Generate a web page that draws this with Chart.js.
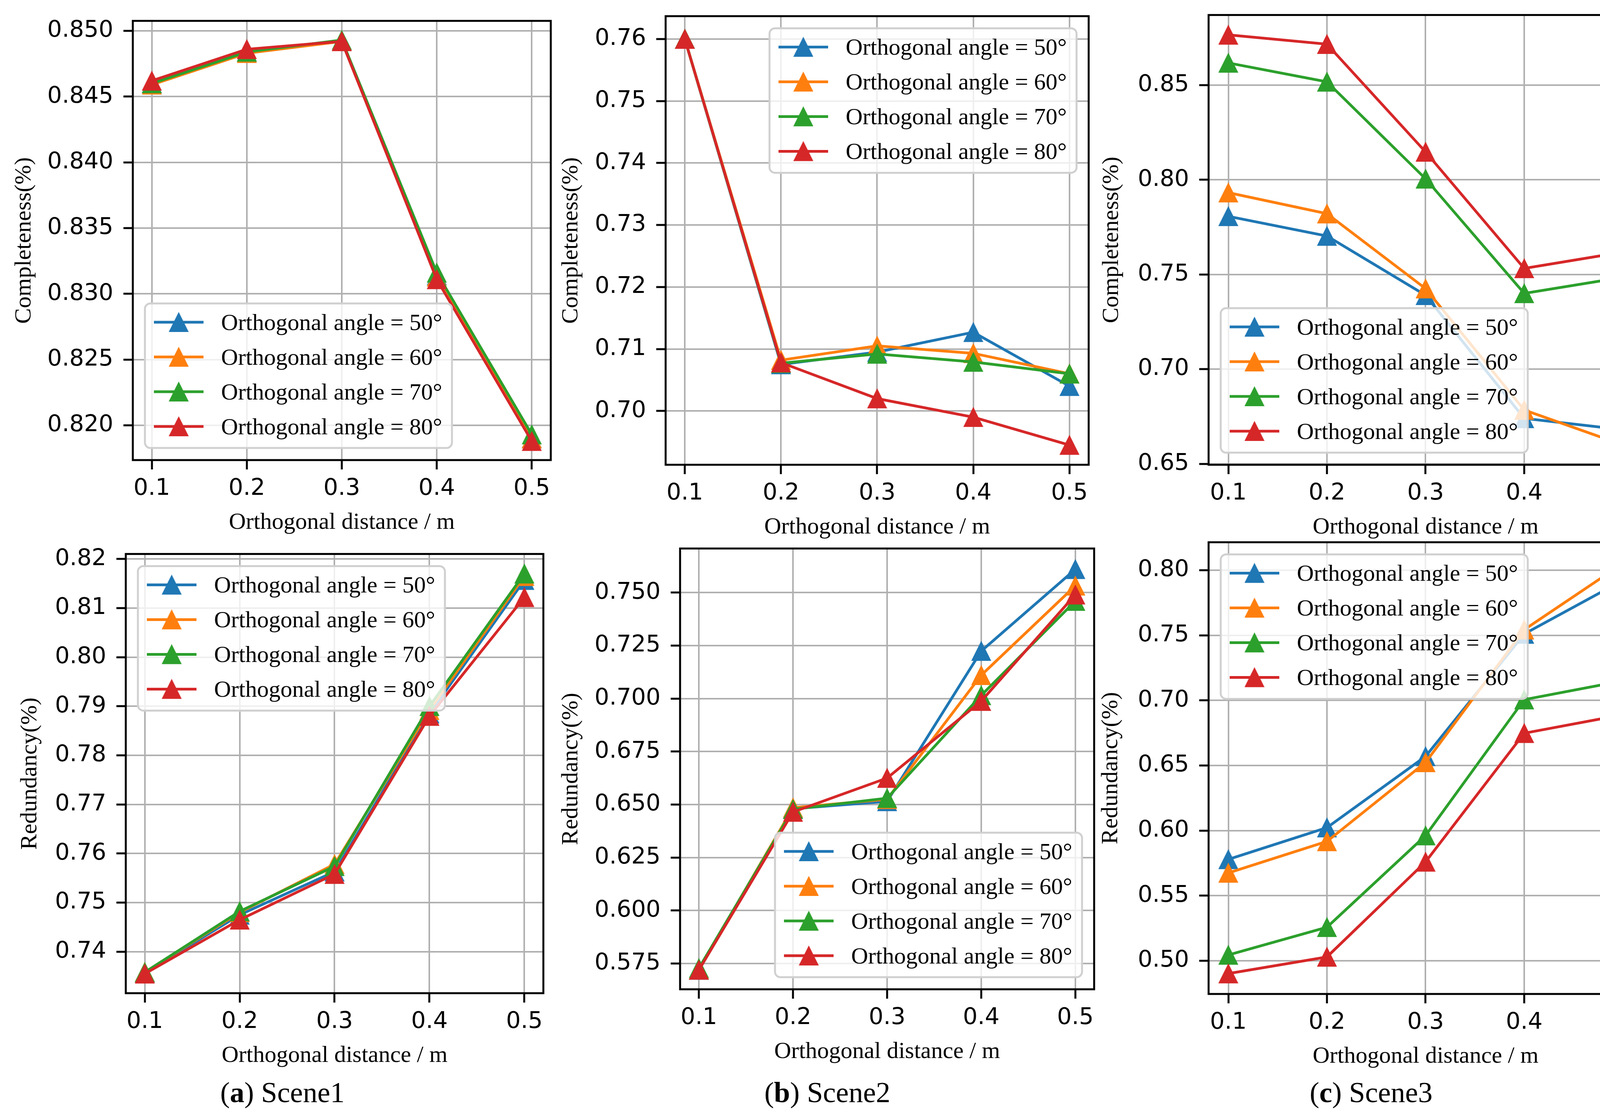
<!DOCTYPE html>
<html lang="en">
<head>
  <meta charset="UTF-8" />
  <title>Completeness and redundancy vs orthogonal distance</title>
  <script src="https://cdn.jsdelivr.net/npm/chart.js@4"></script>
  <style>
    html, body { margin: 0; padding: 0; background: #fff; overflow: hidden; }
    body { width: 4239px; height: 2860px; position: relative; }
    canvas { position: absolute; }
    .caption {
      position: absolute;
      top: 2760px;
      font-family: 'Liberation Serif', serif;
      font-size: 74px;
      line-height: 1;
      color: #000;
      white-space: nowrap;
      transform: translateX(-50%);
    }
  </style>
</head>
<body>
  <div class="caption" style="left:723px">(<b>a</b>) Scene1</div>
  <div class="caption" style="left:2118px">(<b>b</b>) Scene2</div>
  <div class="caption" style="left:3510px">(<b>c</b>) Scene3</div>

  <script>
    // ---- data ----
    const distances = [0.1, 0.2, 0.3, 0.4, 0.5];
    const distanceTicks = [0.1, 0.2, 0.3, 0.4, 0.5];
    const angleLabels = [
      'Orthogonal angle = 50°',
      'Orthogonal angle = 60°',
      'Orthogonal angle = 70°',
      'Orthogonal angle = 80°'
    ];

    // rows: 50°, 60°, 70°, 80°
    const scene1Completeness = [
      [0.8460, 0.8484, 0.8492, 0.8314, 0.8190],
      [0.8459, 0.8483, 0.8492, 0.8313, 0.8190],
      [0.8460, 0.8484, 0.8493, 0.8316, 0.8193],
      [0.8462, 0.8486, 0.8492, 0.8311, 0.8188]
    ];
    const scene1Redundancy = [
      [0.7357, 0.7475, 0.7563, 0.7885, 0.8157],
      [0.7358, 0.7480, 0.7578, 0.7892, 0.8165],
      [0.7358, 0.7482, 0.7574, 0.7900, 0.8170],
      [0.7355, 0.7465, 0.7558, 0.7880, 0.8122]
    ];
    const scene2Completeness = [
      [0.7600, 0.7075, 0.7095, 0.7127, 0.7040],
      [0.7600, 0.7082, 0.7105, 0.7093, 0.7060],
      [0.7600, 0.7077, 0.7092, 0.7079, 0.7060],
      [0.7600, 0.7078, 0.7020, 0.6990, 0.6945]
    ];
    const scene2Redundancy = [
      [0.5720, 0.6480, 0.6515, 0.7224, 0.7610],
      [0.5722, 0.6485, 0.6525, 0.7110, 0.7532],
      [0.5728, 0.6478, 0.6530, 0.7015, 0.7460],
      [0.5720, 0.6465, 0.6625, 0.6988, 0.7490]
    ];
    const scene3Completeness = [
      [0.7807, 0.7703, 0.7390, 0.6740, 0.6680],
      [0.7932, 0.7821, 0.7425, 0.6784, 0.6600],
      [0.8617, 0.8517, 0.8005, 0.7400, 0.7485],
      [0.8765, 0.8716, 0.8147, 0.7532, 0.7618]
    ];
    const scene3Redundancy = [
      [0.5779, 0.6023, 0.6570, 0.7510, 0.7922],
      [0.5675, 0.5917, 0.6524, 0.7543, 0.8052],
      [0.5045, 0.5258, 0.5962, 0.7006, 0.7150],
      [0.4902, 0.5030, 0.5760, 0.6748, 0.6890]
    ];

    const scene1CompletenessTicks = [0.820, 0.825, 0.830, 0.835, 0.840, 0.845, 0.850];
    const scene1RedundancyTicks = [0.74, 0.75, 0.76, 0.77, 0.78, 0.79, 0.80, 0.81, 0.82];
    const scene2CompletenessTicks = [0.70, 0.71, 0.72, 0.73, 0.74, 0.75, 0.76];
    const scene2RedundancyTicks = [0.575, 0.600, 0.625, 0.650, 0.675, 0.700, 0.725, 0.750];
    const scene3CompletenessTicks = [0.65, 0.70, 0.75, 0.80, 0.85];
    const scene3RedundancyTicks = [0.50, 0.55, 0.60, 0.65, 0.70, 0.75, 0.80];

    const panels = [
      { values: scene1Completeness, ticks: scene1CompletenessTicks, decimals: 3, yMin: 0.81736, yMax: 0.85076, yTitle: 'Completeness(%)' },
      { values: scene1Redundancy,   ticks: scene1RedundancyTicks,   decimals: 2, yMin: 0.73154, yMax: 0.82103, yTitle: 'Redundancy(%)' },
      { values: scene2Completeness, ticks: scene2CompletenessTicks, decimals: 2, yMin: 0.69132, yMax: 0.76369, yTitle: 'Completeness(%)' },
      { values: scene2Redundancy,   ticks: scene2RedundancyTicks,   decimals: 3, yMin: 0.56286, yMax: 0.77079, yTitle: 'Redundancy(%)' },
      { values: scene3Completeness, ticks: scene3CompletenessTicks, decimals: 2, yMin: 0.6495,  yMax: 0.8870,  yTitle: 'Completeness(%)' },
      { values: scene3Redundancy,   ticks: scene3RedundancyTicks,   decimals: 2, yMin: 0.47454, yMax: 0.82145, yTitle: 'Redundancy(%)' }
    ];

    // ---- layout: plot area [left, top, right, bottom], y axis width, legend corner ----
    const boxes = [
      { area: [340, 52, 1411, 1178],    yAxisW: 314, legend: 'll' },
      { area: [322, 1417, 1392, 2543],  yAxisW: 281, legend: 'ul' },
      { area: [1704, 40, 2788, 1190],   yAxisW: 278, legend: 'ur' },
      { area: [1741, 1403, 2802, 2533], yAxisW: 315, legend: 'lr' },
      { area: [3094, 37, 4206, 1190],   yAxisW: 284, legend: 'll' },
      { area: [3094, 1387, 4206, 2545], yAxisW: 286, legend: 'ul' }
    ];

    const colors = ['#1f77b4', '#ff7f0e', '#2ca02c', '#d62728'];
    const tickFont = { family: '"DejaVu Sans"', size: 59 };
    const titleFont = { family: '"Liberation Serif"', size: 60 };

    // matplotlib-style '^' marker (as tall as it is wide, centred on the point)
    function triangleMarker(color) {
      const c = document.createElement('canvas');
      c.width = 52; c.height = 52;
      const g = c.getContext('2d');
      g.beginPath();
      g.moveTo(26, 2); g.lineTo(50, 50); g.lineTo(2, 50); g.closePath();
      g.fillStyle = color; g.fill();
      g.lineWidth = 2; g.strokeStyle = color; g.stroke();
      return c;
    }
    const markers = colors.map(triangleMarker);

    const framePlugin = {
      id: 'frame',
      afterDatasetsDraw(chart) {
        const { ctx, chartArea: a } = chart;
        ctx.save();
        ctx.strokeStyle = '#000';
        ctx.lineWidth = 5;
        ctx.strokeRect(a.left, a.top, a.right - a.left, a.bottom - a.top);
        ctx.restore();
      }
    };

    function boxLegend(corner) {
      return {
        id: 'boxLegend',
        afterDraw(chart) {
          const { ctx, chartArea: a } = chart;
          const sets = chart.data.datasets;
          ctx.save();
          ctx.font = '60px "Liberation Serif"';
          const textW = Math.max(...sets.map(d => ctx.measureText(d.label).width));
          const bw = 23 + 127 + 45 + textW + 25, bh = 370, gap = 31;
          const x0 = corner[1] === 'l' ? a.left + gap : a.right - gap - bw;
          const y0 = corner[0] === 'u' ? a.top + gap : a.bottom - gap - bh;

          ctx.beginPath();
          if (ctx.roundRect) ctx.roundRect(x0, y0, bw, bh, 14);
          else ctx.rect(x0, y0, bw, bh);
          ctx.fillStyle = 'rgba(255,255,255,0.8)';
          ctx.fill();
          ctx.strokeStyle = '#d0d0d0';
          ctx.lineWidth = 5;
          ctx.stroke();

          sets.forEach((d, i) => {
            const cy = y0 + 48 + i * 89;
            ctx.strokeStyle = d.borderColor;
            ctx.lineWidth = 7;
            ctx.beginPath();
            ctx.moveTo(x0 + 23, cy);
            ctx.lineTo(x0 + 150, cy);
            ctx.stroke();
            ctx.drawImage(d.pointStyle, x0 + 86.5 - 26, cy - 26);
            ctx.fillStyle = '#000';
            ctx.textBaseline = 'alphabetic';
            ctx.fillText(d.label, x0 + 195, cy + 20);
          });
          ctx.restore();
        }
      };
    }

    const gridOpts = { color: '#b0b0b0', lineWidth: 4, tickColor: '#000', tickWidth: 5, tickLength: 24 };

    panels.forEach((p, k) => {
      const box = boxes[k];
      const [L, T, R, B] = box.area;
      const padTop = 60, padRight = 30, xAxisH = 196;
      const w = box.yAxisW + (R - L) + padRight;
      const h = padTop + (B - T) + xAxisH;

      const cv = document.createElement('canvas');
      cv.width = w; cv.height = h;
      cv.style.left = (L - box.yAxisW) + 'px';
      cv.style.top = (T - padTop) + 'px';
      cv.style.width = w + 'px';
      cv.style.height = h + 'px';
      document.body.appendChild(cv);

      new Chart(cv, {
        type: 'line',
        data: {
          datasets: p.values.map((vals, i) => ({
            label: angleLabels[i],
            data: distances.map((d, j) => ({ x: d, y: vals[j] })),
            borderColor: colors[i],
            backgroundColor: colors[i],
            borderWidth: 7,
            pointStyle: markers[i],
            pointRadius: 24,
            pointHoverRadius: 24,
            tension: 0,
            fill: false,
            clip: false,
            order: 3 - i
          }))
        },
        options: {
          responsive: false,
          animation: false,
          events: [],
          layout: { padding: { top: padTop, right: padRight, left: 0, bottom: 0 } },
          plugins: { legend: { display: false }, tooltip: { enabled: false } },
          scales: {
            x: {
              type: 'linear',
              min: 0.08,
              max: 0.52,
              afterFit: s => { s.height = xAxisH; },
              afterBuildTicks: s => { s.ticks = distanceTicks.map(v => ({ value: v })); },
              ticks: { callback: v => v.toFixed(1), font: tickFont, color: '#000', padding: 14, maxRotation: 0, autoSkip: false },
              grid: gridOpts,
              border: { display: false },
              title: { display: true, text: 'Orthogonal distance / m', font: titleFont, color: '#000', padding: 0 }
            },
            y: {
              type: 'linear',
              min: p.yMin,
              max: p.yMax,
              afterFit: s => { s.width = box.yAxisW; },
              afterBuildTicks: s => { s.ticks = p.ticks.map(v => ({ value: v })); },
              ticks: { callback: v => v.toFixed(p.decimals), font: tickFont, color: '#000', padding: 26, autoSkip: false },
              grid: gridOpts,
              border: { display: false },
              title: { display: true, text: p.yTitle, font: titleFont, color: '#000', padding: 0 }
            }
          }
        },
        plugins: [framePlugin, boxLegend(box.legend)]
      });
    });
  </script>
</body>
</html>
